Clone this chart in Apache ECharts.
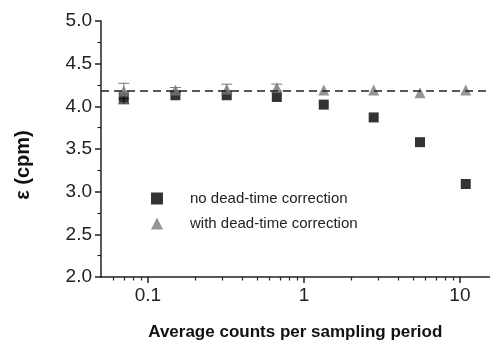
<!DOCTYPE html>
<html><head><meta charset="utf-8">
<script src="https://cdn.jsdelivr.net/npm/echarts@6/dist/echarts.min.js"></script>
<style>html,body{margin:0;padding:0;background:#fff}#c{width:490px;height:341px}</style>
</head><body><div id="c"></div>
<script>
var xVals = [0.07, 0.15, 0.32, 0.67, 1.34, 2.8, 5.55, 10.9];
var noCorr = [4.10, 4.13, 4.13, 4.11, 4.02, 3.87, 3.58, 3.09];
var noCorrErr = [0.07, 0, 0, 0, 0, 0, 0, 0];
var withCorr = [4.18, 4.19, 4.20, 4.22, 4.19, 4.19, 4.16, 4.19];
var withCorrErr = [0.09, 0.03, 0.06, 0.04, 0, 0, 0, 0];
var refLevel = 4.18;
var majorXTicks = [0.1, 1, 10];
var minorXTicks = [0.06, 0.07, 0.08, 0.09, 0.2, 0.3, 0.4, 0.5, 0.6, 0.7, 0.8, 0.9, 2, 3, 4, 5, 6, 7, 8, 9];
var seriesNames = ['no dead-time correction', 'with dead-time correction'];

var FONT = 'Liberation Sans, Arial, sans-serif';
function pts(ys) { return xVals.map(function (x, i) { return [x, ys[i]]; }); }
function errData(ys, es) {
  var out = [];
  xVals.forEach(function (x, i) { if (es[i] > 0) out.push([x, ys[i] - es[i], ys[i] + es[i]]); });
  return out;
}
function errSeries(ys, es, color) {
  return {
    type: 'custom', xAxisIndex: 0, yAxisIndex: 0, silent: true, z: 1,
    data: errData(ys, es),
    renderItem: function (params, api) {
      var lo = api.coord([api.value(0), api.value(1)]);
      var hi = api.coord([api.value(0), api.value(2)]);
      var w = 5.5;
      var st = { stroke: color, lineWidth: 1 };
      return { type: 'group', children: [
        { type: 'line', shape: { x1: lo[0], y1: lo[1], x2: hi[0], y2: hi[1] }, style: st },
        { type: 'line', shape: { x1: lo[0] - w, y1: lo[1], x2: lo[0] + w, y2: lo[1] }, style: st },
        { type: 'line', shape: { x1: hi[0] - w, y1: hi[1], x2: hi[0] + w, y2: hi[1] }, style: st }
      ]};
    }
  };
}

var chart = echarts.init(document.getElementById('c'), null, { renderer: 'canvas' });
chart.setOption({
  animation: false,
  textStyle: { fontFamily: FONT },
  grid: { left: 101, right: 0.4, top: 21, bottom: 64, containLabel: false, outerBoundsMode: 'none' },
  legend: {
    orient: 'vertical', left: 146, top: 186, itemGap: 10,
    itemWidth: 12, itemHeight: 12,
    data: seriesNames,
    textStyle: { fontFamily: FONT, fontSize: 15, color: '#222', padding: [0, 0, 0, 22] }
  },
  xAxis: [{
    type: 'log', logBase: 10, min: 0.05, max: 15.5,
    axisLine: { show: true, lineStyle: { color: '#222', width: 1.5 } },
    axisTick: { show: true, length: 6, customValues: majorXTicks, lineStyle: { color: '#222', width: 1.5 } },
    axisLabel: { customValues: majorXTicks, fontSize: 19, color: '#222', margin: 9, fontFamily: FONT,
      formatter: function (v) { return String(v); } },
    splitLine: { show: false },
    name: 'Average counts per sampling period', nameLocation: 'middle', nameGap: 47,
    nameTextStyle: { fontSize: 17, fontWeight: 'bold', color: '#111', fontFamily: FONT }
  }, {
    type: 'log', logBase: 10, min: 0.05, max: 15.5, position: 'bottom',
    axisLine: { show: false },
    axisTick: { show: true, length: 3.5, customValues: minorXTicks, lineStyle: { color: '#222', width: 1.2 } },
    axisLabel: { show: false }, splitLine: { show: false }
  }],
  yAxis: {
    type: 'value', min: 2, max: 5, interval: 0.5,
    axisLine: { show: true, lineStyle: { color: '#222', width: 1.5 } },
    axisTick: { show: true, length: 6, lineStyle: { color: '#222', width: 1.5 } },
    minorTick: { show: true, splitNumber: 2, length: 3.5, lineStyle: { color: '#222', width: 1.2 } },
    axisLabel: { fontSize: 19, color: '#222', margin: 9, fontFamily: FONT,
      formatter: function (v) { return v.toFixed(1); } },
    splitLine: { show: false },
    name: 'ε (cpm)', nameLocation: 'middle', nameGap: 68, nameRotate: 90,
    nameTextStyle: { fontSize: 20, fontWeight: 'bold', color: '#111', fontFamily: FONT, padding: [0, 32, 0, 0] }
  },
  series: [
    errSeries(noCorr, noCorrErr, '#222'),
    errSeries(withCorr, withCorrErr, '#777'),
    {
      name: seriesNames[0], type: 'scatter', symbol: 'rect', symbolSize: 10, z: 3,
      itemStyle: { color: '#000' }, data: pts(noCorr),
      markLine: {
        silent: true, symbol: 'none', label: { show: false },
        lineStyle: { color: '#222', type: [8, 5], width: 1.5 },
        data: [{ yAxis: refLevel }]
      }
    },
    {
      name: seriesNames[1], type: 'scatter', symbol: 'triangle', symbolSize: 11, z: 4,
      itemStyle: { color: '#7a7a7a' }, data: pts(withCorr)
    }
  ]
});
</script></body></html>
